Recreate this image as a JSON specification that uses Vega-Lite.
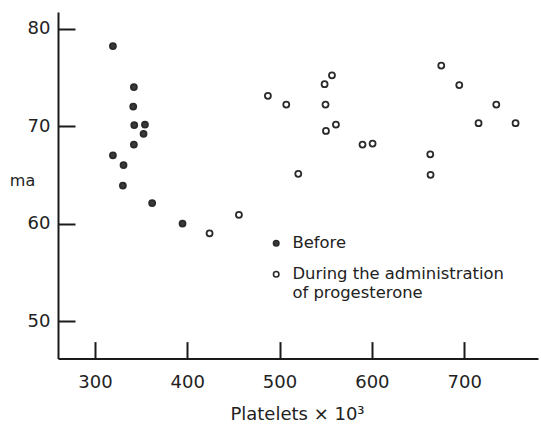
{
  "$schema": "https://vega.github.io/schema/vega-lite/v6.json",
  "width": 480,
  "height": 346.6,
  "autosize": "none",
  "padding": {"left": 58, "top": 12, "right": 3, "bottom": 67.4},
  "background": "white",
  "data": {"values": [
    {"platelets": 319.5, "ma": 78.2, "group": "Before"},
    {"platelets": 342.2, "ma": 74.0, "group": "Before"},
    {"platelets": 341.5, "ma": 72.0, "group": "Before"},
    {"platelets": 342.6, "ma": 70.1, "group": "Before"},
    {"platelets": 354.2, "ma": 70.15, "group": "Before"},
    {"platelets": 352.7, "ma": 69.2, "group": "Before"},
    {"platelets": 342.2, "ma": 68.1, "group": "Before"},
    {"platelets": 319.5, "ma": 67.0, "group": "Before"},
    {"platelets": 331.0, "ma": 66.0, "group": "Before"},
    {"platelets": 330.3, "ma": 63.9, "group": "Before"},
    {"platelets": 362.0, "ma": 62.1, "group": "Before"},
    {"platelets": 394.9, "ma": 60.0, "group": "Before"},
    {"platelets": 424.2, "ma": 59.0, "group": "During"},
    {"platelets": 456.0, "ma": 60.9, "group": "During"},
    {"platelets": 487.4, "ma": 73.1, "group": "During"},
    {"platelets": 507.3, "ma": 72.2, "group": "During"},
    {"platelets": 520.3, "ma": 65.1, "group": "During"},
    {"platelets": 548.8, "ma": 74.3, "group": "During"},
    {"platelets": 556.8, "ma": 75.2, "group": "During"},
    {"platelets": 549.8, "ma": 72.2, "group": "During"},
    {"platelets": 561.1, "ma": 70.15, "group": "During"},
    {"platelets": 550.3, "ma": 69.5, "group": "During"},
    {"platelets": 589.9, "ma": 68.1, "group": "During"},
    {"platelets": 600.8, "ma": 68.2, "group": "During"},
    {"platelets": 663.3, "ma": 67.1, "group": "During"},
    {"platelets": 663.6, "ma": 65.0, "group": "During"},
    {"platelets": 675.2, "ma": 76.2, "group": "During"},
    {"platelets": 694.7, "ma": 74.2, "group": "During"},
    {"platelets": 734.8, "ma": 72.2, "group": "During"},
    {"platelets": 715.6, "ma": 70.3, "group": "During"},
    {"platelets": 755.7, "ma": 70.3, "group": "During"}
  ]},
  "mark": {"type": "point", "shape": "circle", "size": 36, "stroke": "#2a2a2a", "strokeWidth": 1.8, "opacity": 1, "clip": true},
  "encoding": {
    "x": {
      "field": "platelets", "type": "quantitative",
      "scale": {"domain": [260, 780], "nice": false, "zero": false},
      "axis": {
        "values": [300, 400, 500, 600, 700],
        "title": "Platelets × 10³",
        "titleX": 239, "titleY": 56, "titleAlign": "center", "titleBaseline": "middle",
        "titleFontSize": 18, "titleFontWeight": "normal",
        "ticks": true,
        "tickSize": -17, "labelPadding": 32
      }
    },
    "y": {
      "field": "ma", "type": "quantitative",
      "scale": {"domain": [46.15, 81.7], "nice": false, "zero": false},
      "axis": {
        "values": [50, 60, 70, 80],
        "title": "ma",
        "titleAngle": 0, "titleX": -36, "titleY": 168, "titleAlign": "center", "titleBaseline": "middle",
        "titleFontSize": 16, "titleFontWeight": "normal",
        "ticks": true,
        "tickSize": -17, "labelPadding": 25
      }
    },
    "fill": {
      "field": "group", "type": "nominal",
      "scale": {"domain": ["Before", "During"], "range": ["#3a3a3a", "white"]},
      "legend": {
        "title": null,
        "orient": "none",
        "legendX": 210,
        "legendY": 223,
        "padding": 0,
        "symbolType": "circle",
        "symbolSize": 30,
        "symbolStrokeColor": "#2a2a2a",
        "symbolStrokeWidth": 1.6,
        "symbolOpacity": 1,
        "labelFontSize": 16.4,
        "labelOffset": 8,
        "labelColor": "#222",
        "labelFont": "DejaVu Sans",
        "rowPadding": 14,
        "labelLimit": 400,
        "labelExpr": "datum.label == 'During' ? ['During the administration', 'of progesterone'] : datum.label"
      }
    }
  },
  "config": {
    "font": "DejaVu Sans",
    "view": {"stroke": null},
    "axis": {
      "grid": false,
      "domainColor": "#1a1a1a",
      "domainWidth": 2,
      "tickColor": "#1a1a1a",
      "tickWidth": 2,
      "labelFontSize": 18,
      "labelColor": "#222",
      "titleColor": "#222",
      "labelFont": "DejaVu Sans",
      "titleFont": "DejaVu Sans"
    }
  }
}
